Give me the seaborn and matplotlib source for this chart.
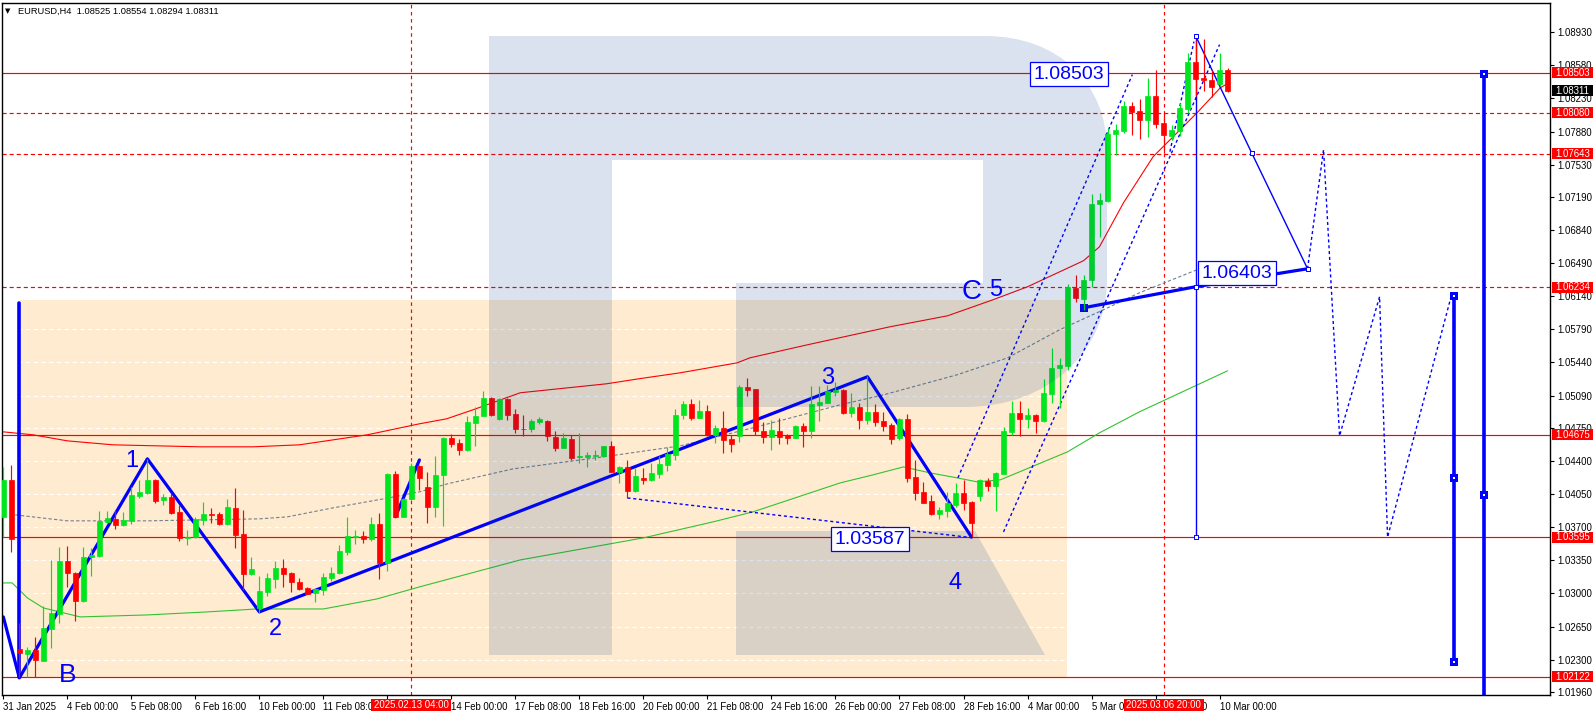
import numpy as np
import pandas as pd
import matplotlib
matplotlib.use("Agg")
import matplotlib.pyplot as plt
import seaborn as sns
from matplotlib.patches import PathPatch, Polygon, Rectangle
from matplotlib.path import Path

# EURUSD H4 candles
opens = [1.03812,1.04200,1.02413,1.02360,1.02403,1.02290,1.02628,1.02783,1.03340,1.03213,1.02924,1.03382,1.03396,1.03756,1.03784,1.03727,1.03766,1.04030,1.04062,1.04200,1.03992,1.04020,1.03861,1.03590,1.03594,1.03780,1.03840,1.03837,1.03734,1.03904,1.03625,1.03210,1.02843,1.03019,1.03157,1.03269,1.03213,1.03121,1.03058,1.03005,1.03040,1.03164,1.03217,1.03439,1.03594,1.03608,1.03579,1.03734,1.03319,1.04263,1.03812,1.03995,1.04347,
         1.04129,1.03918,1.04246,1.04644,1.04587,1.04517,1.04802,1.04876,1.05066,1.04844,1.05056,1.04897,1.04740,1.04732,1.04816,1.04823,1.04651,1.04541,1.04633,1.04439,1.04446,1.04457,1.04453,1.04559,1.04284,1.04337,1.04083,1.04221,1.04200,1.04267,1.04358,1.04464,1.04880,1.05003,1.04855,1.04929,1.04672,1.04749,1.04633,1.04668,1.05183,1.05162,1.04718,1.04654,1.04718,1.04672,1.04644,1.04770,1.04718,1.04992,1.05014,1.05130,
         1.05151,1.04908,1.04971,1.04834,1.04915,1.04820,1.04781,1.04647,1.04841,1.04232,1.04069,1.03974,1.03840,1.03872,1.03936,1.04062,1.03967,1.04031,1.04189,1.04136,1.04263,1.04707,1.04904,1.04845,1.04887,1.04823,1.05109,1.05384,1.05405,1.06229,1.06113,1.06307,1.07110,1.07145,1.07850,1.07889,1.08150,1.08100,1.07998,1.08259,1.07973,1.07829,1.07889,1.08121,1.08615,1.08445,1.08428,1.08379,1.08525]
highs = [1.04341,1.04358,1.02685,1.02438,1.02537,1.02868,1.03354,1.03488,1.03502,1.03231,1.03488,1.03477,1.03872,1.03872,1.03882,1.03865,1.04129,1.04200,1.04418,1.04207,1.04052,1.04059,1.03935,1.03671,1.03805,1.03967,1.03907,1.03861,1.03999,1.04111,1.03882,1.03386,1.03185,1.03217,1.03343,1.03365,1.03227,1.03164,1.03065,1.03055,1.03213,1.03276,1.03512,1.03808,1.03671,1.03664,1.03805,1.03847,1.04270,1.04295,1.04006,1.04376,1.04358,
         1.04281,1.04453,1.04651,1.04686,1.04630,1.04876,1.04968,1.05140,1.05073,1.05070,1.05063,1.04947,1.04887,1.04844,1.04859,1.04830,1.04718,1.04696,1.04672,1.04696,1.04492,1.04517,1.04559,1.04612,1.04348,1.04411,1.04327,1.04327,1.04376,1.04453,1.04545,1.04947,1.05031,1.05056,1.05045,1.04992,1.04781,1.04929,1.04679,1.05204,1.05278,1.05162,1.04816,1.04834,1.04855,1.04686,1.04781,1.04802,1.05193,1.05193,1.05204,1.05239,
         1.05158,1.05116,1.05010,1.05292,1.05003,1.04915,1.04799,1.04852,1.04897,1.04411,1.04179,1.04038,1.03911,1.04069,1.04172,1.04200,1.03981,1.04207,1.04217,1.04281,1.04756,1.05035,1.05035,1.04957,1.04894,1.05267,1.05591,1.05489,1.06271,1.06366,1.06366,1.07223,1.07230,1.07917,1.07963,1.08206,1.08192,1.08224,1.08445,1.08534,1.08076,1.07952,1.08181,1.08710,1.08851,1.08861,1.08534,1.08710,1.08554]
lows = [1.03601,1.03442,1.02121,1.02121,1.02121,1.02290,1.02420,1.02692,1.03072,1.02713,1.02914,1.03188,1.03389,1.03741,1.03685,1.03717,1.03734,1.04006,1.04052,1.03960,1.03939,1.03840,1.03558,1.03512,1.03586,1.03727,1.03749,1.03724,1.03720,1.03481,1.03037,1.03195,1.02790,1.02977,1.03055,1.03072,1.03019,1.03037,1.02995,1.02914,1.02984,1.03132,1.03206,1.03410,1.03523,1.03530,1.03551,1.03157,1.03238,1.03805,1.03805,1.03988,1.04094,
        1.03749,1.03812,1.03717,1.04552,1.04464,1.04510,1.04559,1.04876,1.04876,1.04834,1.04834,1.04696,1.04658,1.04707,1.04785,1.04615,1.04506,1.04534,1.04411,1.04383,1.04337,1.04408,1.04439,1.04284,1.04168,1.04006,1.04069,1.04157,1.04193,1.04224,1.04295,1.04411,1.04844,1.04834,1.04851,1.04665,1.04587,1.04485,1.04496,1.04601,1.05088,1.04675,1.04591,1.04517,1.04580,1.04580,1.04637,1.04548,1.04644,1.04823,1.05010,1.05088,
        1.04897,1.04869,1.04742,1.04785,1.04771,1.04718,1.04580,1.04626,1.04179,1.03988,1.03953,1.03830,1.03791,1.03812,1.03918,1.03883,1.03594,1.03978,1.04084,1.03876,1.04263,1.04675,1.04658,1.04749,1.04693,1.04813,1.05014,1.04957,1.05362,1.06074,1.05997,1.06237,1.06765,1.07131,1.07628,1.07861,1.07840,1.07801,1.07822,1.07914,1.07653,1.07787,1.07829,1.08076,1.08252,1.08312,1.08245,1.08364,1.08294]
closes = [1.04200,1.03572,1.02368,1.02403,1.02297,1.02632,1.02790,1.03340,1.03213,1.02924,1.03382,1.03407,1.03766,1.03794,1.03727,1.03773,1.04037,1.04073,1.04200,1.03981,1.04020,1.03847,1.03586,1.03594,1.03787,1.03837,1.03833,1.03734,1.03914,1.03622,1.03210,1.03255,1.03023,1.03164,1.03269,1.03210,1.03118,1.03047,1.02998,1.03044,1.03171,1.03217,1.03446,1.03608,1.03604,1.03579,1.03734,1.03326,1.04263,1.03812,1.03995,1.04347,1.04221,
          1.03918,1.04249,1.04644,1.04580,1.04520,1.04813,1.04876,1.05066,1.04880,1.05056,1.04887,1.04732,1.04732,1.04823,1.04841,1.04658,1.04541,1.04644,1.04436,1.04450,1.04460,1.04460,1.04559,1.04288,1.04337,1.04087,1.04242,1.04203,1.04274,1.04369,1.04475,1.04887,1.05003,1.04855,1.04929,1.04672,1.04749,1.04626,1.04580,1.05183,1.05151,1.04711,1.04654,1.04728,1.04654,1.04647,1.04770,1.04718,1.05003,1.05024,1.05140,1.05151,
          1.04911,1.04971,1.04837,1.04915,1.04813,1.04771,1.04633,1.04841,1.04221,1.04066,1.03957,1.03840,1.03883,1.03957,1.04062,1.03957,1.03745,1.04200,1.04136,1.04274,1.04714,1.04904,1.04848,1.04887,1.04823,1.05119,1.05384,1.05412,1.06236,1.06116,1.06314,1.07117,1.07160,1.07854,1.07896,1.08150,1.08086,1.07998,1.08259,1.07963,1.07840,1.07896,1.08128,1.08618,1.08438,1.08424,1.08354,1.08534,1.08311]

x_ticks = list(range(0, 153, 8))
x_labels = ["31 Jan 2025", "4 Feb 00:00", "5 Feb 08:00", "6 Feb 16:00", "10 Feb 00:00", "11 Feb 08:00",
            "12 Feb 16:00", "14 Feb 00:00", "17 Feb 08:00", "18 Feb 16:00", "20 Feb 00:00", "21 Feb 08:00",
            "24 Feb 16:00", "26 Feb 00:00", "27 Feb 08:00", "28 Feb 16:00", "4 Mar 00:00", "5 Mar 08:00",
            "6 Mar 16:00", "10 Mar 00:00"]
y_ticks = [1.08930, 1.08580, 1.08230, 1.07880, 1.07530, 1.07190, 1.06840, 1.06490, 1.06140, 1.05790, 1.05440,
           1.05090, 1.04750, 1.04400, 1.04050, 1.03700, 1.03350, 1.03000, 1.02650, 1.02300, 1.01960]

# moving averages
ma_red_x = [0,3.7,8,13.7,24.6,31.2,37,45.5,52,55.4,58.7,64.6,75.4,79.6,84.6,91.7,93.3,100.5,110.8,118,123.7,128,135,137,140,143.7,149.2,152.1,153]
ma_red_y = [1.04707,1.04676,1.04612,1.0457,1.04549,1.04549,1.0457,1.04676,1.04792,1.04845,1.0494,1.0512,1.05215,1.0527,1.05331,1.05436,1.05489,1.05627,1.05817,1.05933,1.06103,1.0624,1.06515,1.06663,1.07128,1.07614,1.08079,1.08343,1.08386]
ma_gray_x = [1.5,8,18,32,35.5,41.2,47.5,52,55.5,63.7,75,84.6,93.7,104.6,110,119.2,125.5,132,137.5,142,149.2]
ma_gray_y = [1.0383,1.03767,1.03767,1.03788,1.03809,1.03904,1.03999,1.04073,1.04158,1.04316,1.04443,1.04559,1.0475,1.04993,1.05098,1.0531,1.05489,1.05785,1.05997,1.06177,1.0642]
ma_green_x = [0,1.1,3,5,9.6,18,25.5,31.7,40,46.7,52,64.6,80,88.7,93.7,104.6,108.7,112.5,115.8,119.2,121.7,124.6,133,137,142,153]
ma_green_y = [1.03111,1.03111,1.02953,1.02847,1.02752,1.02773,1.02805,1.02836,1.02836,1.02942,1.03069,1.03354,1.03587,1.03756,1.03862,1.04168,1.04253,1.04337,1.04274,1.04221,1.04179,1.042,1.04496,1.04697,1.04919,1.05352]

# wave drawings
wave_x = [0, 2, 18, 32, 108, 121]
wave_y = [1.02752, 1.02108, 1.04422, 1.02805, 1.05289, 1.03595]
wave_short_x = [49, 52]
wave_short_y = [1.0381, 1.0441]
forecast_x = [135, 149, 163]
forecast_y = [1.06018, 1.06240, 1.06430]
drop_x = [149, 156, 163]
drop_y = [1.08893, 1.07657, 1.06430]
branch_x = [163, 164, 165, 166, 167, 172, 172.5, 173, 181]
branch_y = [1.06430, 1.07064, 1.07688, 1.06177, 1.04665, 1.06135, 1.04857, 1.03595, 1.06156]
channel_a_x, channel_a_y = [119.3, 141.1], [1.04221, 1.08481]
channel_b_x, channel_b_y = [125, 152], [1.03650, 1.08798]
channel_c_x, channel_c_y = [145.8, 148.8], [1.07667, 1.08830]
base_x, base_y = [78, 121], [1.04009, 1.03590]

solid_levels = [1.08503, 1.04675, 1.03595, 1.02122]
dashed_levels = [1.08080, 1.07643, 1.06234]
time_marks = [51, 145]
time_labels = ["2025.02.13 04:00", "2025.03.06 20:00"]

W, H = 1596, 716
BLUE = "#0000FF"
RED = "#FF0000"
GREEN = "#00E61E"

sns.set_theme(style="white")
plt.rcParams["font.family"] = ["Liberation Sans", "DejaVu Sans"]

fig = plt.figure(figsize=(W / 100, H / 100), dpi=100, facecolor="white")
ax = fig.add_axes([2.3 / W, 1 - 695 / H, (1550 - 2.3) / W, (695 - 2.7) / H])
ax.set_xlim(-0.13, 193.3)
ax.set_ylim(1.01927, 1.09241)


def P(x, y):
    return (x / W, 1 - y / H)


# orange block sits under the chart, the blue letter is a veil over it
ax.add_patch(Polygon([P(20, 300), P(1067, 300), P(1067, 677), P(20, 677)], transform=fig.transFigure,
                     facecolor="#FFEBCF", edgecolor="none", zorder=0.2))
codes = [Path.MOVETO, Path.LINETO, Path.CURVE4, Path.CURVE4, Path.CURVE4, Path.LINETO, Path.CURVE4, Path.CURVE4,
         Path.CURVE4, Path.LINETO, Path.LINETO, Path.LINETO, Path.LINETO, Path.LINETO, Path.LINETO, Path.LINETO,
         Path.LINETO, Path.CLOSEPOLY]
verts = [(489, 36), (985, 36), (1060, 36), (1107, 85), (1107, 150), (1107, 280), (1107, 350), (1050, 407), (965, 407),
         (736, 407), (736, 283), (983, 283), (983, 160), (612, 160), (612, 655), (489, 655), (489, 36), (489, 36)]
ax.add_patch(PathPatch(Path([P(*v) for v in verts], codes), transform=fig.transFigure,
                       facecolor="#023E8E", alpha=0.15, edgecolor="none", zorder=3.5))
ax.add_patch(Polygon([P(736, 531), P(975, 531), P(1045, 655), P(736, 655)], transform=fig.transFigure,
                     facecolor="#023E8E", alpha=0.15, edgecolor="none", zorder=3.5))

for t in y_ticks:
    ax.axhline(t, color="white", lw=0.8, ls=(0, (4, 3)), zorder=0.5)

for lev in solid_levels:
    ax.axhline(lev, color=RED, lw=0.85, zorder=1)
for lev in dashed_levels:
    ax.axhline(lev, color=RED, lw=0.85, ls=(0, (3.5, 2.5)), zorder=1)
for t in time_marks:
    ax.axvline(t, color=RED, lw=0.85, ls=(0, (3, 3)), zorder=1)


def line(xs, ys, color=BLUE, lw=0.75, dash=None, z=2):
    sns.lineplot(x=xs, y=ys, sort=False, estimator=None, color=color, linewidth=lw,
                 linestyle=dash if dash else "-", zorder=z, ax=ax, legend=False)


DOT = (0, (2.2, 2))
line(ma_red_x, ma_red_y, RED, 0.8)
line(ma_green_x, ma_green_y, "#33C233", 0.8)
line(ma_gray_x, ma_gray_y, "#708090", 0.8, (0, (3, 2)))
line(wave_x, wave_y, BLUE, 2.3)
line(wave_short_x, wave_short_y, BLUE, 2.3)
line(forecast_x, forecast_y, BLUE, 2.3)
line(drop_x, drop_y, BLUE, 1.0)
line(branch_x, branch_y, BLUE, 1.0, DOT)
line(channel_a_x, channel_a_y, BLUE, 1.0, DOT)
line(channel_b_x, channel_b_y, BLUE, 1.0, DOT)
line(channel_c_x, channel_c_y, BLUE, 1.0, DOT)
line(base_x, base_y, BLUE, 1.0, DOT)

# measuring verticals
line([2, 2], [1.0607, 1.0212], BLUE, 2.6)
line([149, 149], [1.08893, 1.03595], BLUE, 1.0)
line([181.25, 181.25], [1.06145, 1.02276], BLUE, 2.6)
line([185, 185], [1.08491, 1.01927], BLUE, 2.6)

# anchor squares
ax.scatter([135, 181.25, 181.25, 181.25, 185, 185], [1.06018, 1.06145, 1.04221, 1.02276, 1.08491, 1.04041],
           marker="s", s=28, color=BLUE, linewidths=0, zorder=2.5)
ax.scatter([181.25, 181.25, 181.25, 185, 185], [1.06145, 1.04221, 1.02276, 1.08491, 1.04041],
           marker="s", s=1.2, color="white", linewidths=0, zorder=2.6)
ax.scatter([149, 149, 149, 156, 163], [1.08893, 1.06240, 1.03595, 1.07657, 1.06430],
           marker="s", s=11, facecolor="white", edgecolor=BLUE, linewidths=0.7, zorder=2.6)

# candles
bars = pd.DataFrame({"open": opens, "high": highs, "low": lows, "close": closes})
bars["idx"] = bars.index
bars["color"] = np.where(bars["close"] >= bars["open"], GREEN, RED)
ax.vlines(bars["idx"], bars["low"], bars["high"], colors=bars["color"], lw=0.85, zorder=3)
ax.bar(bars["idx"], (bars["close"] - bars["open"]).abs(), bottom=bars[["open", "close"]].min(axis=1), width=0.62,
       color=bars["color"], edgecolor=bars["color"], linewidth=0.5, zorder=3.1)

# value boxes and wave labels
for txt, bx, by in [("1.08503", 133.2, 1.08485), ("1.06403", 154.2, 1.06385), ("1.03587", 108.3, 1.03575)]:
    ax.text(bx, by, txt, color=BLUE, fontsize=14, ha="center", va="center", zorder=4,
            bbox=dict(boxstyle="square,pad=0.18", facecolor="white", edgecolor=BLUE, linewidth=0.9))
for txt, lx, ly, size in [("B", 8, 1.0214, 19), ("1", 16, 1.0440, 17), ("2", 34, 1.0262, 17), ("3", 103, 1.0528, 17),
                          ("C", 121, 1.0618, 20), ("5", 124, 1.0621, 17), ("4", 119, 1.0311, 17)]:
    ax.text(lx, ly, txt, color=BLUE, fontsize=size, ha="center", va="center", zorder=4)

# axes furniture
ax.yaxis.tick_right()
ax.set_yticks(y_ticks, [f"{t:.5f}" for t in y_ticks], fontsize=6.9, color="black")
ax.set_xticks(x_ticks, x_labels, fontsize=6.9, color="black", ha="left")
ax.tick_params(axis="y", which="major", right=True, length=3, width=0.8, pad=2.5, color="black")
ax.tick_params(axis="x", which="major", bottom=True, length=3, width=0.8, pad=2, color="black")
for s in ax.spines.values():
    s.set_color("black")
    s.set_linewidth(1)
ax.set_xlabel("")
ax.set_ylabel("")

# price flags on the right scale
fig.canvas.draw()
flags = [(v, RED) for v in [1.08503, 1.08080, 1.07643, 1.06234, 1.04675, 1.03595, 1.02122]] + [(1.08311, "black")]
for v, c in flags:
    fy = ax.transData.transform((0, v))[1]
    fig.add_artist(Rectangle((1552 / W, (fy - 5.5) / H), 41 / W, 11 / H, transform=fig.transFigure,
                             facecolor=c, edgecolor="none", zorder=5))
    fig.text(1572.5 / W, fy / H, f"{v:.5f}", color="white", fontsize=6.9, ha="center", va="center", zorder=6)

# time flags on the bottom scale
for t, label in zip(time_marks, time_labels):
    fx = ax.transData.transform((t, 0))[0]
    fig.add_artist(Rectangle(((fx - 40) / W, 1 - 711 / H), 80 / W, 12 / H, transform=fig.transFigure,
                             facecolor=RED, edgecolor="none", zorder=5))
    fig.text(fx / W, 1 - 705 / H, label, color="white", fontsize=6.9, ha="center", va="center", zorder=6)

# header
fig.text(5 / W, 1 - 11 / H, "▼", fontsize=5, color="black", ha="left", va="center", family="DejaVu Sans")
fig.text(18 / W, 1 - 11 / H, "EURUSD,H4  1.08525 1.08554 1.08294 1.08311", fontsize=6.7, color="black",
         ha="left", va="center")

fig.savefig("out.png", dpi=100, facecolor="white")
